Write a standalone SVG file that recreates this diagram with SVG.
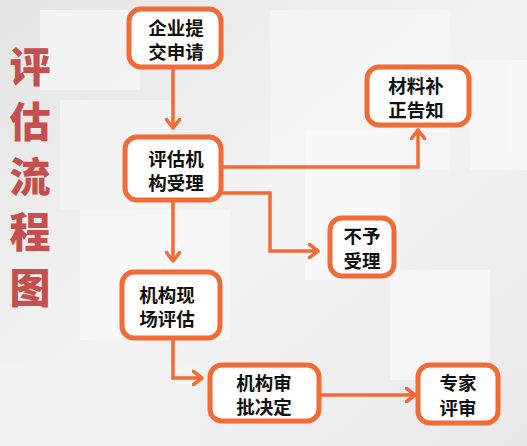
<svg xmlns="http://www.w3.org/2000/svg" width="527" height="446" viewBox="0 0 527 446">
<defs>
<linearGradient id="bg" x1="0" y1="0" x2="1" y2="1">
<stop offset="0" stop-color="#e4e4e4"/>
<stop offset="0.5" stop-color="#f3f3f3"/>
<stop offset="1" stop-color="#e8e8e8"/>
</linearGradient>
<marker id="arr" viewBox="0 0 12 16" refX="10" refY="8" markerWidth="12" markerHeight="16" markerUnits="userSpaceOnUse" orient="auto">
<path d="M1,1 L10,8 L1,15" fill="none" stroke="#f26a36" stroke-width="3.5" stroke-linecap="round" stroke-linejoin="round"/>
</marker>
<style>
.box{fill:#ffffff;stroke:#f26a36;stroke-width:5}
.t{font-family:"Noto Sans CJK SC","Noto Sans",sans-serif;font-weight:bold;font-size:18.5px;fill:#111;text-anchor:middle}
.c{fill:none;stroke:#f26a36;stroke-width:3.5;marker-end:url(#arr)}
.title{font-family:"Noto Sans CJK SC",sans-serif;font-weight:900;font-size:41px;fill:#c4504d;text-anchor:middle}
</style>
</defs>
<rect width="527" height="446" fill="url(#bg)"/>
<g opacity="0.7">
<rect x="40" y="10" width="100" height="80" fill="#f8f8f8"/>
<rect x="60" y="100" width="110" height="110" fill="#f6f6f6"/>
<rect x="270" y="10" width="180" height="160" fill="#f7f7f7"/>
<rect x="305" y="130" width="95" height="150" fill="#fbfbfb"/>
<rect x="390" y="270" width="100" height="110" fill="#fafafa"/>
<rect x="0" y="365" width="200" height="81" fill="#f4f4f4"/>
<rect x="80" y="210" width="150" height="130" fill="#fafafa"/>
<rect x="470" y="60" width="57" height="110" fill="#f9f9f9"/>
</g>
<g id="title">
<text class="title" x="30" y="82">评</text>
<text class="title" x="30" y="137">估</text>
<text class="title" x="30" y="192">流</text>
<text class="title" x="30" y="247">程</text>
<text class="title" x="30" y="303">图</text>
</g>
<g id="connectors">
<path class="c" d="M173,68 V128"/>
<path class="c" d="M222,167 H418 V130"/>
<path class="c" d="M222,193 H270 V251 H318"/>
<path class="c" d="M173,201 V261"/>
<path class="c" d="M173,339 V378 H202"/>
<path class="c" d="M320,395 H415"/>
</g>
<g id="n1"><rect class="box" x="129" y="9" width="92" height="58" rx="12"/><text class="t" x="176" y="35">企业提</text><text class="t" x="176" y="59">交申请</text></g>
<g id="n2"><rect class="box" x="125" y="137" width="96" height="63" rx="12"/><text class="t" x="176" y="166">评估机</text><text class="t" x="176" y="190">构受理</text></g>
<g id="n3"><rect class="box" x="367" y="67" width="102" height="58" rx="12"/><text class="t" x="416" y="93">材料补</text><text class="t" x="416" y="117">正告知</text></g>
<g id="n4"><rect class="box" x="330" y="218" width="64" height="58" rx="12"/><text class="t" x="362" y="243">不予</text><text class="t" x="362" y="268">受理</text></g>
<g id="n5"><rect class="box" x="122" y="272" width="98" height="66" rx="12"/><text class="t" x="167" y="302">机构现</text><text class="t" x="167" y="326">场评估</text></g>
<g id="n6"><rect class="box" x="210" y="365" width="109" height="56" rx="12"/><text class="t" x="264" y="390">机构审</text><text class="t" x="264" y="414">批决定</text></g>
<g id="n7"><rect class="box" x="418" y="365" width="80" height="58" rx="12"/><text class="t" x="458" y="390">专家</text><text class="t" x="458" y="415">评审</text></g>
</svg>
